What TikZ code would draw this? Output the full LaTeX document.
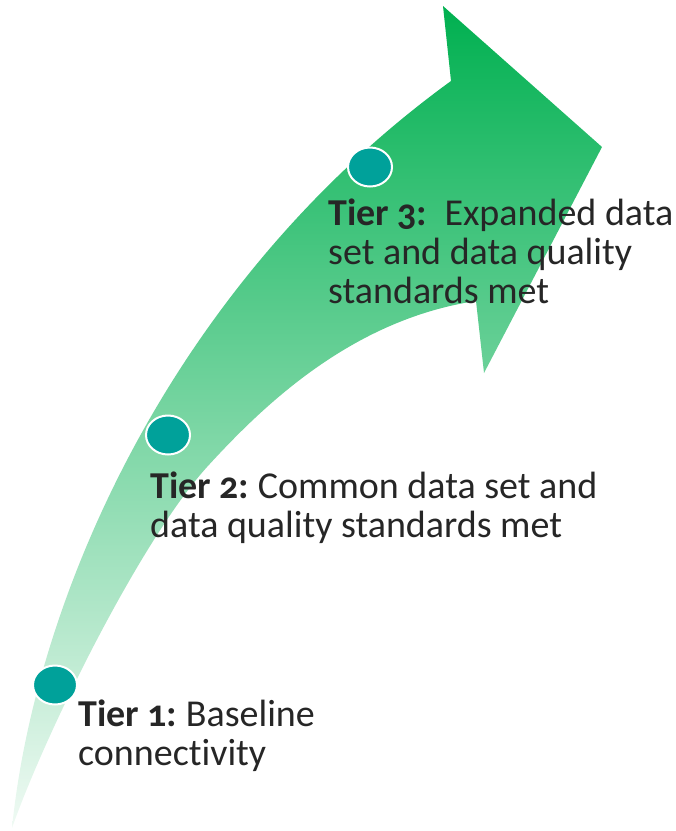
\documentclass[tikz,border=0pt]{standalone}
\usepackage{fontspec}
\setmainfont{Carlito}[Numbers=OldStyle,Ligatures=NoCommon]
\usetikzlibrary{shapes.geometric}
\definecolor{arrowtop}{RGB}{0,176,80}
\definecolor{arrowbot}{RGB}{240,250,244}
\definecolor{dotfill}{RGB}{0,161,154}
\definecolor{txt}{RGB}{38,38,38}
\begin{document}
\frenchspacing
\begin{tikzpicture}[x=1pt,y=-1pt,
  dot/.style={ellipse, fill=dotfill, draw=white, line width=2pt, minimum width=44pt, minimum height=39pt, inner sep=0pt},
  tier/.style={anchor=base west, align=left, inner sep=0pt, text=txt, font=\fontsize{38}{39}\selectfont\frenchspacing}]
\useasboundingbox (0,0) rectangle (676,831);
\shade[top color=arrowtop, bottom color=arrowbot]
  (12,828) .. controls (35,600) and (170,285) .. (451,81)
  -- (443,6) -- (602,147) -- (484,373) -- (476,301)
  .. controls (350,320) and (261,408) .. (207,467)
  .. controls (140,541) and (45,734) .. (12,828) -- cycle;
\node[dot] (c1) at (55,685) {};
\node[dot] (c2) at (168,435) {};
\node[dot] (c3) at (370,167) {};
% anchors sit on the baseline of each text's last line
\node[tier] (t1) at (78,765) {\textbf{Tier 1:} Baseline\\connectivity};
\node[tier] (t2) at (150,537) {\textbf{Tier 2:} Common data set and\\data quality standards met};
\node[tier] (t3) at (328,303) {\textbf{Tier 3:}\ \ Expanded data\\set and data quality\\standards met};
\end{tikzpicture}
\end{document}
